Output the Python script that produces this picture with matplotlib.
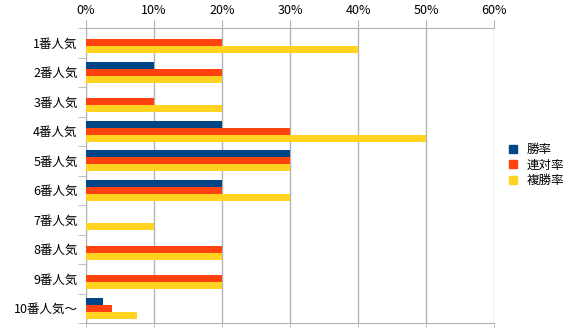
import matplotlib.pyplot as plt
from matplotlib.ticker import PercentFormatter
from matplotlib.lines import Line2D
import numpy as np

plt.rcParams['font.family'] = ['Noto Sans CJK JP', 'DejaVu Sans']

categories = ['1番人気', '2番人気', '3番人気', '4番人気', '5番人気',
              '6番人気', '7番人気', '8番人気', '9番人気', '10番人気～']
win = [0, 10, 0, 20, 30, 20, 0, 0, 0, 2.5]
rentai = [20, 20, 10, 30, 30, 20, 0, 20, 20, 3.8]
fukusho = [40, 20, 20, 50, 30, 30, 10, 20, 20, 7.5]
series = ['勝率', '連対率', '複勝率']
colors = ['#004586', '#ff420e', '#ffd320']

fig = plt.figure(figsize=(5.68, 3.32), dpi=100)
ax = fig.add_axes([86 / 568, 9 / 332, 408 / 568, 295 / 332])

y = np.arange(len(categories))
h = 0.235
for i, (vals, c) in enumerate(zip([win, rentai, fukusho], colors)):
    ax.barh(y + (i - 1) * h, vals, height=h, color=c, zorder=3)

ax.set_xlim(0, 60)
ax.set_ylim(len(categories) - 0.5, -0.5)
ax.set_xticks(np.arange(0, 61, 10))
ax.set_xticks(np.arange(0, 61, 10), minor=True)
ax.xaxis.remove_overlapping_locs = False
ax.xaxis.set_major_formatter(PercentFormatter(decimals=0))
ax.grid(axis='x', color='#b3b3b3', linewidth=1, zorder=0)

ax.set_yticks(y)
ax.set_yticklabels(categories)
ax.set_yticks(np.arange(-0.5, len(categories), 1), minor=True)
ax.tick_params(axis='y', which='major', length=0, pad=6, labelsize=9)
ax.tick_params(axis='y', which='minor', length=6, color='#b3b3b3', direction='out')
ax.tick_params(axis='x', which='major', top=True, bottom=False, labeltop=True,
               labelbottom=False, length=6, color='#b3b3b3', direction='out',
               labelsize=9, pad=2)
ax.tick_params(axis='x', which='minor', top=False, bottom=True, length=3,
               color='#b3b3b3', direction='out')

ax.spines['right'].set_visible(False)
for s in ['top', 'left', 'bottom']:
    ax.spines[s].set_color('#b3b3b3')

handles = [Line2D([], [], marker='s', linestyle='', color=c, markersize=6) for c in colors]
fig.legend(handles, series, loc='center left', bbox_to_anchor=(494 / 568, 1 - 165 / 332),
           frameon=False, fontsize=9, handletextpad=0.1, labelspacing=0.2, borderpad=0)

fig.savefig('out.png', dpi=100)
